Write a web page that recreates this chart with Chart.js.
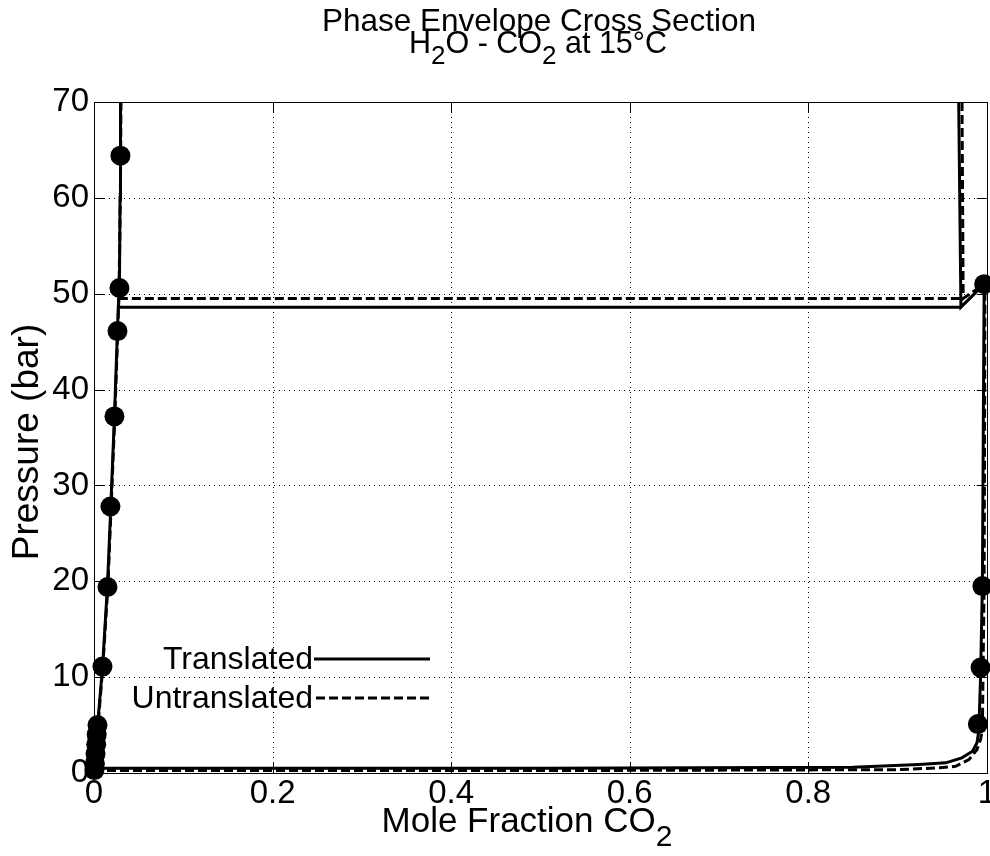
<!DOCTYPE html>
<html>
<head>
<meta charset="utf-8">
<script src="https://cdn.jsdelivr.net/npm/chart.js@4/dist/chart.umd.min.js"></script>
<style>
  html, body { margin: 0; padding: 0; background: #fff; overflow: hidden; }
  /* a little wider than the window so the "1" label is cut at the edge like the original */
  #wrap { width: 997px; height: 856px; position: relative; }
</style>
</head>
<body>
<div id="wrap"><canvas id="phaseChart"></canvas></div>
<script>
// --- data ---
// Translated (solid lines)
var trLiqX = [0, 0.0017, 0.004, 0.0095, 0.015, 0.0188, 0.0229, 0.0262, 0.0272, 0.0285, 0.0292, 0.0297];
var trLiqP = [0, 2, 5, 11, 19.4, 27.8, 37.2, 46, 48.6, 50.6, 60, 70];
var trThreeX = [0.0272, 0.971];
var trThreeP = [48.6, 48.6];
var trCo2LiqX = [0.9685, 0.971, 0.997];
var trCo2LiqP = [70, 48.6, 51];
var trVapX = [0, 0.5, 0.85, 0.924, 0.954, 0.972, 0.984, 0.989, 0.991, 0.993, 0.995, 0.996, 0.997];
var trVapP = [0.5, 0.5, 0.6, 0.89, 1.06, 1.58, 2.27, 3.15, 4.35, 10, 19.5, 35, 51];

// Untranslated (dashed lines)
var unLiqX = [0, 0.0045, 0.0098, 0.0155, 0.0192, 0.0233, 0.0266, 0.0278, 0.0288, 0.0297, 0.0302];
var unLiqP = [0, 5, 11, 19.4, 27.8, 37.2, 46, 49.5, 55, 62, 70];
var unThreeX = [0.0278, 0.9735];
var unThreeP = [49.5, 49.5];
var unCo2LiqX = [0.9722, 0.9735, 0.997];
var unCo2LiqP = [70, 49.5, 51];
var unVapX = [0, 0.5, 0.9, 0.947, 0.965, 0.98, 0.989, 0.993, 0.995, 0.997, 0.998];
var unVapP = [0.25, 0.25, 0.35, 0.54, 0.7, 1.4, 2.45, 3.5, 4.5, 20, 51];

// Experimental points (filled dots)
var expX = [0.0005, 0.001, 0.0017, 0.0025, 0.003, 0.0039, 0.0095, 0.0151, 0.0184, 0.0229, 0.0263, 0.0285, 0.0296, 0.997, 0.995, 0.993, 0.990];
var expP = [0.3, 1, 2, 3, 4, 5, 11.1, 19.4, 27.8, 37.2, 46.1, 50.6, 64.4, 51, 19.5, 11, 5.1];

var xTickLabels = ['0', '0.2', '0.4', '0.6', '0.8', '1'];
var yTickLabels = ['0', '10', '20', '30', '40', '50', '60', '70'];

var FONT = "'Liberation Sans', Arial, Helvetica, sans-serif";

function pts(xs, ys) {
    return xs.map(function(x, i) { return { x: x, y: ys[i] }; });
}

function lineSet(label, xs, ys, dashed) {
    return {
        label: label,
        data: pts(xs, ys),
        showLine: true,
        borderColor: '#000',
        borderWidth: 3,
        borderDash: dashed ? [9, 4] : [],
        pointRadius: 0,
        fill: false,
        tension: 0
    };
}

// draws text made of normal and subscript pieces, centred on cx
function drawRich(ctx, parts, cx, y, size, subSize, subDrop) {
    var total = 0;
    parts.forEach(function(p) {
        ctx.font = (p.sub ? subSize : size) + 'px ' + FONT;
        p.w = ctx.measureText(p.t).width;
        total += p.w;
    });
    var x = cx - total / 2;
    ctx.textAlign = 'left';
    ctx.textBaseline = 'alphabetic';
    parts.forEach(function(p) {
        ctx.font = (p.sub ? subSize : size) + 'px ' + FONT;
        ctx.fillText(p.t, x, p.sub ? y + subDrop : y);
        x += p.w;
    });
}

var matlabLook = {
    id: 'matlabLook',
    beforeDatasetsDraw: function(chart) {
        var ctx = chart.ctx, a = chart.chartArea;
        var xs = chart.scales.x, ys = chart.scales.y;
        ctx.save();
        ctx.strokeStyle = '#000';
        ctx.lineWidth = 1;
        ctx.setLineDash([1, 4]);
        xs.ticks.forEach(function(t) {
            var px = Math.round(xs.getPixelForValue(t.value)) + 0.5;
            ctx.beginPath(); ctx.moveTo(px, a.top); ctx.lineTo(px, a.bottom); ctx.stroke();
        });
        ys.ticks.forEach(function(t) {
            var py = Math.round(ys.getPixelForValue(t.value)) + 0.5;
            ctx.beginPath(); ctx.moveTo(a.left, py); ctx.lineTo(a.right, py); ctx.stroke();
        });
        ctx.restore();
    },
    afterDatasetsDraw: function(chart) {
        var ctx = chart.ctx, a = chart.chartArea;
        var xs = chart.scales.x, ys = chart.scales.y;
        var tl = 10;
        ctx.save();
        ctx.strokeStyle = '#000';
        ctx.lineWidth = 1;
        ctx.setLineDash([]);
        ctx.strokeRect(Math.round(a.left) + 0.5, Math.round(a.top) + 0.5,
            Math.round(a.right - a.left), Math.round(a.bottom - a.top));
        ctx.beginPath();
        xs.ticks.forEach(function(t) {
            var px = Math.round(xs.getPixelForValue(t.value)) + 0.5;
            ctx.moveTo(px, a.bottom); ctx.lineTo(px, a.bottom - tl);
            ctx.moveTo(px, a.top); ctx.lineTo(px, a.top + tl);
        });
        ys.ticks.forEach(function(t) {
            var py = Math.round(ys.getPixelForValue(t.value)) + 0.5;
            ctx.moveTo(a.left, py); ctx.lineTo(a.left + tl, py);
            ctx.moveTo(a.right, py); ctx.lineTo(a.right - tl, py);
        });
        ctx.stroke();

        // legend inside the axes
        ctx.fillStyle = '#000';
        ctx.font = '32px ' + FONT;
        ctx.textAlign = 'right';
        ctx.textBaseline = 'middle';
        ctx.fillText('Translated', 313, 660);
        ctx.fillText('Untranslated', 313, 699);
        ctx.lineWidth = 3;
        ctx.beginPath(); ctx.moveTo(314, 659); ctx.lineTo(430, 659); ctx.stroke();
        ctx.setLineDash([9, 4]);
        ctx.beginPath(); ctx.moveTo(316, 698); ctx.lineTo(430, 698); ctx.stroke();
        ctx.restore();
    },
    afterDraw: function(chart) {
        var ctx = chart.ctx;
        ctx.save();
        ctx.fillStyle = '#000';
        ctx.font = '31.5px ' + FONT;
        ctx.textAlign = 'center';
        ctx.textBaseline = 'alphabetic';
        ctx.fillText('Phase Envelope Cross Section', 539, 31);
        drawRich(ctx, [
            { t: 'H' }, { t: '2', sub: true }, { t: 'O - CO' }, { t: '2', sub: true }, { t: ' at 15°C' }
        ], 538, 53, 30.5, 26, 11);

        drawRich(ctx, [
            { t: 'Mole Fraction CO' }, { t: '2', sub: true }
        ], 527, 832, 35, 30, 14);

        ctx.translate(38, 442);
        ctx.rotate(-Math.PI / 2);
        ctx.font = '37px ' + FONT;
        ctx.textAlign = 'center';
        ctx.textBaseline = 'alphabetic';
        ctx.fillText('Pressure (bar)', 0, 0);
        ctx.restore();
    }
};

var canvas = document.getElementById('phaseChart');
new Chart(canvas.getContext('2d'), {
    type: 'scatter',
    data: {
        datasets: [
            lineSet('Translated liquid', trLiqX, trLiqP, false),
            lineSet('Translated three-phase', trThreeX, trThreeP, false),
            lineSet('Translated CO2 liquid', trCo2LiqX, trCo2LiqP, false),
            lineSet('Translated vapour', trVapX, trVapP, false),
            lineSet('Untranslated liquid', unLiqX, unLiqP, true),
            lineSet('Untranslated three-phase', unThreeX, unThreeP, true),
            lineSet('Untranslated CO2 liquid', unCo2LiqX, unCo2LiqP, true),
            lineSet('Untranslated vapour', unVapX, unVapP, true),
            {
                label: 'Data',
                data: pts(expX, expP),
                showLine: false,
                pointRadius: 10,
                pointBackgroundColor: '#000',
                pointBorderColor: '#000',
                pointBorderWidth: 0,
                clip: false
            }
        ]
    },
    plugins: [matlabLook],
    options: {
        responsive: true,
        maintainAspectRatio: false,
        animation: false,
        layout: { padding: { top: 102, right: 0, left: 0, bottom: 0 } },
        plugins: {
            legend: { display: false },
            tooltip: { enabled: false },
            title: { display: false }
        },
        scales: {
            x: {
                type: 'linear',
                min: 0,
                max: 1,
                afterFit: function(scale) { scale.height = 83; },
                afterBuildTicks: function(scale) {
                    scale.ticks = xTickLabels.map(function(s) { return { value: parseFloat(s) }; });
                },
                grid: { display: false, drawTicks: false },
                border: { display: false },
                ticks: {
                    color: '#000',
                    padding: 1,
                    maxRotation: 0,
                    autoSkip: false,
                    font: { family: FONT, size: 33 },
                    callback: function(v, i) { return xTickLabels[i]; }
                }
            },
            y: {
                type: 'linear',
                min: 0,
                max: 70,
                afterFit: function(scale) { scale.width = 94; },
                afterBuildTicks: function(scale) {
                    scale.ticks = yTickLabels.map(function(s) { return { value: parseFloat(s) }; });
                },
                grid: { display: false, drawTicks: false },
                border: { display: false },
                ticks: {
                    color: '#000',
                    padding: 5,
                    autoSkip: false,
                    font: { family: FONT, size: 33 },
                    callback: function(v, i) { return yTickLabels[i]; }
                }
            }
        }
    }
});
</script>
</body>
</html>
